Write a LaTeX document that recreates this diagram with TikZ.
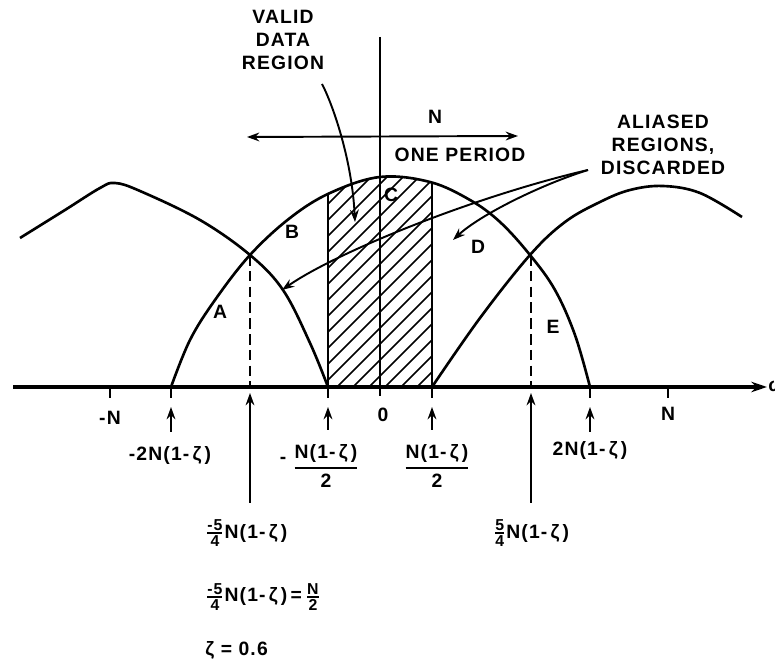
\documentclass[tikz,border=0pt]{standalone}
\usepackage{fontspec}
\usepackage{amsmath}
\setmainfont{Liberation Sans}[LetterSpace=6]
\usetikzlibrary{arrows.meta}
\newcommand\zt{{\bfseries ζ}}
\newcommand\smfr[2]{\ensuremath{\genfrac{}{}{0.9pt}{1}{\hbox{\small #1}}{\hbox{\small #2}}}}
\newcommand\bigfr[2]{\ensuremath{\genfrac{}{}{1pt}{0}{\hbox{#1}}{\hbox{#2}}}}
\tikzset{
  curve/.style={line width=1.5pt, line join=round},
  axisline/.style={line width=1.8pt},
  hatchline/.style={line width=0.9pt},
  pointer/.style={line width=1.1pt, -{Stealth[length=7pt,width=5pt]}},
  dblpointer/.style={line width=1.1pt, {Stealth[length=7pt,width=5pt]}-{Stealth[length=7pt,width=5pt]}},
  tickline/.style={line width=1.3pt},
  dashedline/.style={line width=1.3pt, dash pattern=on 6pt off 3pt},
  lbl/.style={font=\fontsize{11}{13}\selectfont\bfseries, inner sep=0pt},
}
\begin{document}
\begin{tikzpicture}[x=0.02cm, y=-0.02cm]
\clip (0,0) rectangle (775,661);
\fill[white] (0,0) rectangle (775,661);

% hatched valid region
\begin{scope}
  \clip (328,150) rectangle (432,387);
  \clip plot[smooth,tension=0.6] coordinates {(171,387) (190,340) (215,300) (250,255) (290,218) (330,193) (380,177) (430,182) (470,200) (500,222) (530,255) (555,290) (575,335) (590,387)} -- cycle;
  \foreach \c in {500,516,...,830} \draw[hatchline] ({\c-387},387) -- ({\c-150},150);
\end{scope}
\begin{scope}
  \clip plot[smooth,tension=0.6] coordinates {(171,387) (190,340) (215,300) (250,255) (290,218) (330,193) (380,177) (430,182) (470,200) (500,222) (530,255) (555,290) (575,335) (590,387)} -- cycle;
  \draw[curve] (328,387) -- (328,150);
  \draw[curve] (432,387) -- (432,150);
\end{scope}

% humps
\draw[curve] plot[smooth,tension=0.6] coordinates {(20,238) (65,210) (100,188) (115,183) (140,191) (200,220) (250,255) (283,290) (310,343) (328,387)};
\draw[curve] plot[smooth,tension=0.6] coordinates {(171,387) (190,340) (215,300) (250,255) (290,218) (330,193) (380,177) (430,182) (470,200) (500,222) (530,255) (555,290) (575,335) (590,387)};
\draw[curve] plot[smooth,tension=0.6] coordinates {(432,387) (480,318) (530,255) (565,222) (600,202) (630,190) (663,186) (700,193) (742,217)};

% crossings and dashed lines
\coordinate (xl) at (250,255);
\coordinate (xr) at (531,255);
\coordinate (xlb) at (250,387);
\coordinate (xrb) at (531,387);
\draw[dashedline] (xl) -- (xlb);
\draw[dashedline] (xr) -- (xrb);

% axes
\coordinate (axL) at (13,387);
\coordinate (axR) at (767,387);
\draw[axisline, -{Stealth[length=9pt,width=6pt]}] (axL) -- (axR);
\node[lbl, anchor=west] (omega) at (768,386) {ω};
\coordinate (vtop) at (380,37);
\coordinate (vbot) at (380,396);
\draw[curve] (vtop) -- (vbot);

% ticks
\foreach \x in {110,171,328,432,590,668} \draw[tickline] (\x,387) -- (\x,398);

% upward arrows
\foreach \x/\yb/\yt in {171/432/407, 250/503/393, 328/430/407, 432/430/407, 531/503/393, 590/432/407}
  \draw[pointer] (\x,\yb) -- (\x,\yt);

% axis labels
\node[lbl] (mN) at (110,418) {-N};
\node[lbl] (zero) at (383,415) {0};
\node[lbl] (pN) at (668,414) {N};
\node[lbl] (m2) at (170,456) {-2N(1-\,\zt\,)};
\node[lbl] (p2) at (590,451) {2N(1-\,\zt\,)};
\node[lbl] (mhm) at (283,460) {-};
\node[lbl] (mh) at (326,466) {\bigfr{N(1-\,\zt\,)}{2}};
\node[lbl] (ph) at (437,466) {\bigfr{N(1-\,\zt\,)}{2}};

% formulas
\node[lbl, anchor=west] (f1) at (205,533) {\smfr{-5}{4}N(1-\,\zt\,)};
\node[lbl, anchor=west] (f2) at (493,533) {\smfr{5}{4}N(1-\,\zt\,)};
\node[lbl, anchor=west] (f3) at (205,597) {\smfr{-5}{4}N(1-\,\zt\,)\,=\,\smfr{N}{2}};
\node[lbl, anchor=west] (f4) at (205,650) {\zt\ = 0.6};

% region letters
\node[lbl] (la) at (220,312) {A};
\node[lbl] (lb) at (292,232) {B};
\node[lbl] (lc) at (391,195) {C};
\node[lbl] (ld) at (478,247) {D};
\node[lbl] (le) at (553,327) {E};

% period arrow
\coordinate (nl) at (247,137);
\coordinate (nr) at (518,136);
\draw[dblpointer] (nl) -- (nr);
\node[lbl] (nlab) at (435,117) {N};
\node[lbl] (oneper) at (460,155) {ONE PERIOD};

% valid data region
\node[lbl, align=center] (valid) at (283,40) {VALID\\DATA\\REGION};
\coordinate (vtail) at (322,84);
\coordinate (vtip) at (355,222);
\draw[pointer] (vtail) .. controls (333,105) and (352,160) .. (vtip);

% aliased regions
\node[lbl, align=center] (alias) at (663,145) {ALIASED\\REGIONS,\\DISCARDED};
\coordinate (atail) at (588,170);
\coordinate (atip1) at (282,290);
\coordinate (atip2) at (453,240);
\draw[pointer] (atail) .. controls (480,195) and (340,250) .. (atip1);
\draw[pointer] (atail) .. controls (540,185) and (480,215) .. (atip2);
\end{tikzpicture}
\end{document}
